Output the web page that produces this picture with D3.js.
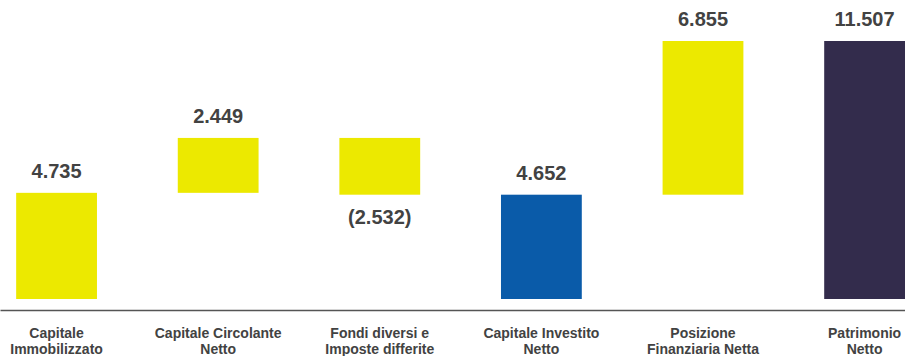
<!DOCTYPE html>
<html>
<head>
<meta charset="utf-8">
<script src="https://cdn.jsdelivr.net/npm/d3@7"></script>
<style>
  html, body { margin: 0; padding: 0; background: #ffffff; }
  svg { display: block; }
</style>
</head>
<body>
<svg id="chart" width="905" height="356"></svg>
<script>
// ---- data ----
const categories = [
  "Capitale Immobilizzato",
  "Capitale Circolante Netto",
  "Fondi diversi e Imposte differite",
  "Capitale Investito Netto",
  "Posizione Finanziaria Netta",
  "Patrimonio Netto"
];
const categoryLines = [
  ["Capitale", "Immobilizzato"],
  ["Capitale Circolante", "Netto"],
  ["Fondi diversi e", "Imposte differite"],
  ["Capitale Investito", "Netto"],
  ["Posizione", "Finanziaria Netta"],
  ["Patrimonio", "Netto"]
];
const values = [4735, 2449, -2532, 4652, 6855, 11507];
// "step" = floating change, "total" = bar from zero
const barTypes = ["total", "step", "step", "total", "step", "total"];
const barColors = ["#ece900", "#ece900", "#ece900", "#0a5ba9", "#ece900", "#332c4c"];

// ---- build waterfall extents ----
let running = 0;
const bars = values.map((v, i) => {
  let y0, y1;
  if (barTypes[i] === "total") { y0 = 0; y1 = v; running = v; }
  else { y0 = running; y1 = running + v; running = y1; }
  return { cat: categories[i], lines: categoryLines[i], value: v, y0, y1, color: barColors[i] };
});

const W = 905, H = 356;
const svg = d3.select("#chart");

const x = d3.scaleBand()
  .domain(categories)
  .range([0, W])
  .paddingInner(0.5)
  .paddingOuter(0.05)
  .align(1);

const y = d3.scaleLinear()
  .domain([0, d3.max(values)])
  .range([299, 41]);

const locale = d3.formatLocale({ decimal: ",", thousands: ".", grouping: [3], currency: ["€", ""] });
const fmt = locale.format(",d");
const label = v => v < 0 ? "(" + fmt(-v) + ")" : fmt(v);

// bars
svg.append("g").selectAll("rect")
  .data(bars)
  .join("rect")
  .attr("x", d => x(d.cat))
  .attr("width", x.bandwidth())
  .attr("y", d => y(Math.max(d.y0, d.y1)))
  .attr("height", d => Math.abs(y(d.y0) - y(d.y1)))
  .attr("fill", d => d.color);

// value labels
svg.append("g").selectAll("text")
  .data(bars)
  .join("text")
  .attr("x", d => x(d.cat) + x.bandwidth() / 2)
  .attr("y", d => d.value < 0 ? y(Math.min(d.y0, d.y1)) + 29 : y(Math.max(d.y0, d.y1)) - 15)
  .attr("text-anchor", "middle")
  .attr("font-family", "'Liberation Sans', Arial, Helvetica, sans-serif")
  .attr("font-weight", "bold")
  .attr("font-size", 20)
  .attr("fill", "#424242")
  .text(d => label(d.value));

// baseline axis
const xAxis = d3.axisBottom(x).tickSize(0).tickFormat("");
const axisG = svg.append("g")
  .attr("transform", "translate(0,310)")
  .call(xAxis);
axisG.select(".domain").attr("stroke", "#555555").attr("stroke-width", 1.5);

// category labels (two lines)
const catG = svg.append("g").selectAll("text")
  .data(bars)
  .join("text")
  .attr("text-anchor", "middle")
  .attr("font-family", "'Liberation Sans', Arial, Helvetica, sans-serif")
  .attr("font-weight", "bold")
  .attr("font-size", 14)
  .attr("fill", "#424242");
catG.selectAll("tspan")
  .data(d => d.lines.map(l => ({ l, cx: x(d.cat) + x.bandwidth() / 2 })))
  .join("tspan")
  .attr("x", t => t.cx)
  .attr("y", (t, i) => 338 + i * 16)
  .text(t => t.l);
</script>
</body>
</html>
